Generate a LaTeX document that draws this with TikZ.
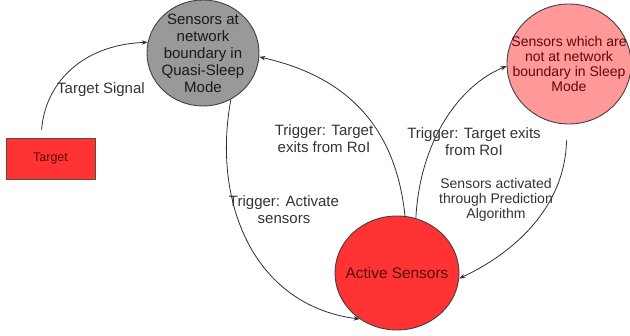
\documentclass[tikz,border=0pt]{standalone}
\usepackage{fontspec}
\setmainfont{Liberation Sans}
\usetikzlibrary{shapes.geometric,arrows.meta}

\definecolor{shapeline}{HTML}{404040}
\definecolor{wireline}{HTML}{303030}
\definecolor{labeltext}{HTML}{333333}
\definecolor{activered}{HTML}{FF3333}
\definecolor{sleeppink}{HTML}{FF9999}
\definecolor{quasigray}{HTML}{999999}
\definecolor{darkred}{HTML}{5A0A0A}

\tikzset{
  statebub/.style={ellipse, draw=shapeline, line width=0.9pt, inner sep=0pt},
  bubtext/.style={align=center, inner sep=0pt},
  edgelabel/.style={align=center, text=labeltext, inner sep=0pt,
    font=\fontsize{15}{17}\selectfont},
  flow/.style={draw=wireline, line width=0.8pt,
    -{Stealth[length=6pt,width=4.5pt]}},
}

\begin{document}
\begin{tikzpicture}[x=1pt,y=-1pt]
  \useasboundingbox (0,0) rectangle (630,336);

  % states (outline first, wording on top)
  \node[statebub, fill=quasigray, minimum width=112pt, minimum height=106pt]
        (G) at (203,53) {};
  \node[bubtext, text=black!90, font=\fontsize{15}{17}\selectfont] (Gt)
        at (G.center) {Sensors at\\network\\boundary in\\Quasi-Sleep\\Mode};
  \node[statebub, fill=sleeppink, minimum width=124pt, minimum height=120pt]
        (P) at (569,64) {};
  \node[bubtext, text=darkred, font=\fontsize{14}{15}\selectfont] (Pt)
        at (P.center) {Sensors which are\\not at network\\boundary in Sleep\\Mode};
  \node[statebub, fill=activered, minimum width=124pt, minimum height=114pt]
        (A) at (397,273) {};
  \node[bubtext, text=darkred, font=\fontsize{15.4}{17}\selectfont] (At)
        at (A.center) {Active Sensors};

  % target
  \node[draw=shapeline!80!brown, line width=0.9pt, fill=activered,
        minimum width=89pt, minimum height=41pt, inner sep=0pt,
        text=darkred, font=\fontsize{12.5}{14}\selectfont] (T) at (50.5,158.5)
        {Target};

  % connectors
  \draw[flow, shorten <=8pt] ([xshift=-9.5pt]T.north)
    .. controls (45,85) and (80,45) .. (G.169);
  \draw[flow] (G.-59) .. controls (212,200) and (252,305) .. (A.-129);
  \draw[flow] (A.82) .. controls (395,120) and (340,75) .. (G.-4);
  \draw[flow] (A.71) .. controls (420,140) and (460,85) .. (P.182);
  \draw[flow, shorten <=16pt] (P.268) .. controls (565,210) and (510,255) .. (A.-5);

  % connector labels
  \node[edgelabel] (lsig) at (101,90) {Target Signal};
  \node[edgelabel] (lact) at (284,210) {Trigger: Activate\\sensors};
  \node[edgelabel] (lexl) at (324,139) {Trigger: Target\\exits from RoI};
  \node[edgelabel] (lexr) at (474,142) {Trigger: Target exits\\from RoI};
  \node[edgelabel, font=\fontsize{14}{15}\selectfont] (lpred) at (496,200)
    {Sensors activated\\through Prediction\\Algorithm};
\end{tikzpicture}
\end{document}
